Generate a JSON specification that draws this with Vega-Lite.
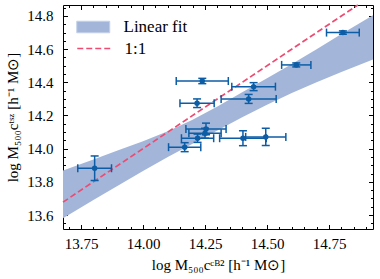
{
  "$schema": "https://vega.github.io/schema/vega-lite/v6.json",
  "width": 310,
  "height": 224,
  "autosize": {"type": "none"},
  "padding": {"left": 63, "top": 5, "right": 7, "bottom": 50},
  "background": "white",
  "config": {
    "view": {"stroke": "black", "strokeWidth": 1},
    "axis": {
      "domain": false, "grid": false,
      "tickColor": "black", "tickWidth": 1,
      "labelFont": "Liberation Serif", "labelFontSize": 15, "labelColor": "black",
      "titleFont": "Liberation Serif", "titleFontSize": 15, "titleFontWeight": "normal", "titleColor": "black"
    },
    "legend": {
      "padding": 0, "title": null,
      "labelFont": "Liberation Serif", "labelFontSize": 17, "labelColor": "black",
      "labelOffset": 29.5, "rowPadding": 4.5, "symbolSize": 272
    }
  },
  "datasets": {
    "band": [
      {"x": 13.6774, "lo": 13.581, "hi": 13.868, "s": "Linear fit"},
      {"x": 13.8, "lo": 13.690, "hi": 13.935, "s": "Linear fit"},
      {"x": 13.9, "lo": 13.778, "hi": 13.990, "s": "Linear fit"},
      {"x": 14.0, "lo": 13.865, "hi": 14.045, "s": "Linear fit"},
      {"x": 14.1, "lo": 13.950, "hi": 14.105, "s": "Linear fit"},
      {"x": 14.2, "lo": 14.030, "hi": 14.175, "s": "Linear fit"},
      {"x": 14.3, "lo": 14.110, "hi": 14.255, "s": "Linear fit"},
      {"x": 14.4, "lo": 14.190, "hi": 14.340, "s": "Linear fit"},
      {"x": 14.5, "lo": 14.265, "hi": 14.425, "s": "Linear fit"},
      {"x": 14.6, "lo": 14.335, "hi": 14.510, "s": "Linear fit"},
      {"x": 14.7, "lo": 14.400, "hi": 14.600, "s": "Linear fit"},
      {"x": 14.8, "lo": 14.462, "hi": 14.692, "s": "Linear fit"},
      {"x": 14.9274, "lo": 14.538, "hi": 14.805, "s": "Linear fit"}
    ],
    "diag": [
      {"x": 13.6774, "y": 13.6774, "s": "1:1"},
      {"x": 14.8663, "y": 14.8663, "s": "1:1"}
    ],
    "pts": [
      {"x": 13.805, "y": 13.882, "xlo": 13.737, "xhi": 13.873, "ylo": 13.808, "yhi": 13.956},
      {"x": 14.806, "y": 14.700, "xlo": 14.740, "xhi": 14.872, "ylo": 14.690, "yhi": 14.710},
      {"x": 14.618, "y": 14.505, "xlo": 14.559, "xhi": 14.677, "ylo": 14.493, "yhi": 14.517},
      {"x": 14.239, "y": 14.408, "xlo": 14.134, "xhi": 14.344, "ylo": 14.392, "yhi": 14.424},
      {"x": 14.446, "y": 14.374, "xlo": 14.358, "xhi": 14.534, "ylo": 14.350, "yhi": 14.398},
      {"x": 14.426, "y": 14.300, "xlo": 14.315, "xhi": 14.537, "ylo": 14.273, "yhi": 14.327},
      {"x": 14.218, "y": 14.274, "xlo": 14.149, "xhi": 14.287, "ylo": 14.248, "yhi": 14.300},
      {"x": 14.254, "y": 14.119, "xlo": 14.173, "xhi": 14.335, "ylo": 14.084, "yhi": 14.154},
      {"x": 14.250, "y": 14.093, "xlo": 14.185, "xhi": 14.315, "ylo": 14.063, "yhi": 14.123},
      {"x": 14.220, "y": 14.063, "xlo": 14.155, "xhi": 14.285, "ylo": 14.038, "yhi": 14.088},
      {"x": 14.168, "y": 14.009, "xlo": 14.103, "xhi": 14.233, "ylo": 13.982, "yhi": 14.036},
      {"x": 14.403, "y": 14.063, "xlo": 14.309, "xhi": 14.497, "ylo": 14.018, "yhi": 14.108},
      {"x": 14.495, "y": 14.071, "xlo": 14.414, "xhi": 14.576, "ylo": 14.019, "yhi": 14.123}
    ]
  },
  "layer": [
    {
      "data": {"name": "band"},
      "mark": {"type": "area"},
      "encoding": {
        "x": {"field": "x", "type": "quantitative",
          "scale": {"domain": [13.6774, 14.9274], "nice": false, "zero": false},
          "axis": {"orient": "bottom", "values": [13.75, 14.0, 14.25, 14.5, 14.75], "format": ".2f",
            "tickSize": -4.5, "labelPadding": 12, "title": "log M₅₀₀cᶜᴮ² [h⁻¹ M⊙]", "titlePadding": 6}},
        "y": {"field": "lo", "type": "quantitative",
          "scale": {"domain": [13.5156, 14.8663], "nice": false, "zero": false},
          "axis": {"orient": "left", "values": [13.6, 13.8, 14.0, 14.2, 14.4, 14.6, 14.8], "format": ".1f",
            "tickSize": -4.5, "labelPadding": 14.5, "title": "log M₅₀₀cᵗˢᶻ [h⁻¹ M⊙]", "titlePadding": 6}},
        "y2": {"field": "hi"},
        "fill": {"field": "s", "type": "nominal",
          "scale": {"range": ["#a3b6d9"]},
          "legend": {"orient": "none", "legendX": 13, "legendY": 13,
            "symbolType": "M-1,-0.7H3V0.7H-1Z", "symbolStrokeColor": "#c3d0e8", "symbolStrokeWidth": 1}}
      }
    },
    {
      "data": {"name": "diag"},
      "mark": {"type": "line", "strokeDash": [6, 3], "strokeWidth": 1.7},
      "encoding": {
        "x": {"field": "x", "type": "quantitative",
          "axis": {"orient": "bottom", "values": [13.7, 13.75, 13.8, 13.85, 13.9, 13.95, 14.0, 14.05, 14.1, 14.15, 14.2, 14.25, 14.3, 14.35, 14.4, 14.45, 14.5, 14.55, 14.6, 14.65, 14.7, 14.75, 14.8, 14.85, 14.9],
            "labels": false, "tickSize": -2.5, "title": null}},
        "y": {"field": "y", "type": "quantitative",
          "axis": {"orient": "left", "values": [13.55, 13.6, 13.65, 13.7, 13.75, 13.8, 13.85, 13.9, 13.95, 14.0, 14.05, 14.1, 14.15, 14.2, 14.25, 14.3, 14.35, 14.4, 14.45, 14.5, 14.55, 14.6, 14.65, 14.7, 14.75, 14.8, 14.85],
            "labels": false, "tickSize": -2.5, "title": null}},
        "stroke": {"field": "s", "type": "nominal",
          "scale": {"range": ["#ee4b72"]},
          "legend": {"orient": "none", "legendX": 13, "legendY": 34,
            "symbolType": "M-1,0H3", "symbolDash": [6, 3], "symbolStrokeWidth": 1.7, "symbolFillColor": "transparent"}}
      }
    },
    {
      "data": {"name": "pts"},
      "mark": {"type": "rule", "color": "#0C5DA5", "strokeWidth": 1.5},
      "encoding": {
        "x": {"field": "xlo", "type": "quantitative",
          "axis": {"orient": "top", "values": [13.75, 14.0, 14.25, 14.5, 14.75], "labels": false, "tickSize": -4.5, "title": null}},
        "x2": {"field": "xhi"},
        "y": {"field": "y", "type": "quantitative",
          "axis": {"orient": "right", "values": [13.6, 13.8, 14.0, 14.2, 14.4, 14.6, 14.8], "labels": false, "tickSize": -4.5, "title": null}}
      }
    },
    {
      "data": {"name": "pts"},
      "mark": {"type": "rule", "color": "#0C5DA5", "strokeWidth": 1.5},
      "encoding": {
        "x": {"field": "x", "type": "quantitative",
          "axis": {"orient": "top", "values": [13.7, 13.75, 13.8, 13.85, 13.9, 13.95, 14.0, 14.05, 14.1, 14.15, 14.2, 14.25, 14.3, 14.35, 14.4, 14.45, 14.5, 14.55, 14.6, 14.65, 14.7, 14.75, 14.8, 14.85, 14.9],
            "labels": false, "tickSize": -2.5, "title": null}},
        "y": {"field": "ylo", "type": "quantitative",
          "axis": {"orient": "right", "values": [13.55, 13.6, 13.65, 13.7, 13.75, 13.8, 13.85, 13.9, 13.95, 14.0, 14.05, 14.1, 14.15, 14.2, 14.25, 14.3, 14.35, 14.4, 14.45, 14.5, 14.55, 14.6, 14.65, 14.7, 14.75, 14.8, 14.85],
            "labels": false, "tickSize": -2.5, "title": null}},
        "y2": {"field": "yhi"}
      }
    },
    {
      "data": {"name": "pts"},
      "mark": {"type": "tick", "orient": "vertical", "color": "#0C5DA5", "size": 8, "thickness": 1.5, "opacity": 1},
      "encoding": {
        "x": {"field": "xlo", "type": "quantitative", "axis": null},
        "y": {"field": "y", "type": "quantitative", "axis": null}
      }
    },
    {
      "data": {"name": "pts"},
      "mark": {"type": "tick", "orient": "vertical", "color": "#0C5DA5", "size": 8, "thickness": 1.5, "opacity": 1},
      "encoding": {
        "x": {"field": "xhi", "type": "quantitative", "axis": null},
        "y": {"field": "y", "type": "quantitative", "axis": null}
      }
    },
    {
      "data": {"name": "pts"},
      "mark": {"type": "tick", "orient": "horizontal", "color": "#0C5DA5", "size": 8, "thickness": 1.5, "opacity": 1},
      "encoding": {
        "x": {"field": "x", "type": "quantitative", "axis": null},
        "y": {"field": "ylo", "type": "quantitative", "axis": null}
      }
    },
    {
      "data": {"name": "pts"},
      "mark": {"type": "tick", "orient": "horizontal", "color": "#0C5DA5", "size": 8, "thickness": 1.5, "opacity": 1},
      "encoding": {
        "x": {"field": "x", "type": "quantitative", "axis": null},
        "y": {"field": "yhi", "type": "quantitative", "axis": null}
      }
    },
    {
      "data": {"name": "pts"},
      "mark": {"type": "point", "filled": true, "shape": "circle", "color": "#0C5DA5", "size": 30, "opacity": 1},
      "encoding": {
        "x": {"field": "x", "type": "quantitative", "axis": null},
        "y": {"field": "y", "type": "quantitative", "axis": null}
      }
    }
  ],
  "resolve": {"axis": {"x": "independent", "y": "independent"}}
}
